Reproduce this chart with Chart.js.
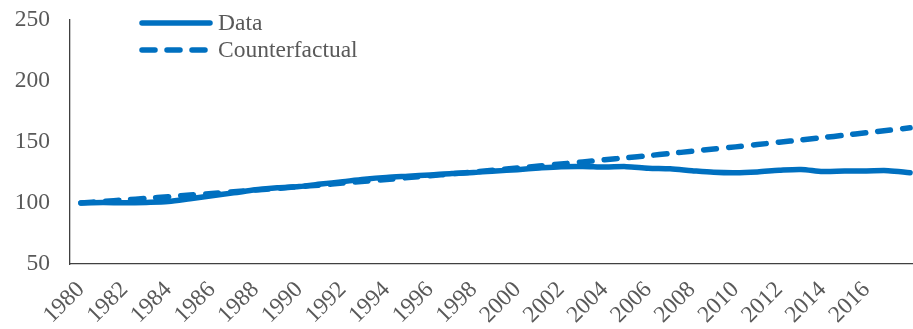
<!DOCTYPE html>
<html>
<head>
<meta charset="utf-8">
<script src="https://cdn.jsdelivr.net/npm/chart.js@4"></script>
<style>
  html, body { margin: 0; padding: 0; background: #fff; overflow: hidden; }
  #wrap { position: relative; width: 921px; height: 329px; }
  #legend { position: absolute; left: 138px; top: 9px; font-family: "Liberation Serif", serif; font-size: 23.5px; color: #595959; }
  #legend div { height: 27px; display: flex; align-items: center; }
  #legend svg { margin-right: 2px; }
</style>
</head>
<body>
<div id="wrap">
  <canvas id="chart" width="921" height="329"></canvas>
  <div id="legend">
    <div><svg width="78" height="10"><line x1="4" y1="5" x2="72" y2="5" stroke="#0070C0" stroke-width="5.5" stroke-linecap="round"/></svg>Data</div>
    <div><svg width="78" height="10"><line x1="4" y1="5" x2="72" y2="5" stroke="#0070C0" stroke-width="5.5" stroke-linecap="round" stroke-dasharray="13 12"/></svg>Counterfactual</div>
  </div>
</div>
<script>
const years = ["1980","1981","1982","1983","1984","1985","1986","1987","1988","1989",
  "1990","1991","1992","1993","1994","1995","1996","1997","1998","1999",
  "2000","2001","2002","2003","2004","2005","2006","2007","2008","2009",
  "2010","2011","2012","2013","2014","2015","2016","2017","2018"];

const dataSeries = [100, 100.4, 100.2, 100.5, 101.2, 103.5, 106, 108.3, 110.8, 112.5,
  113.5, 115.5, 117.5, 119.5, 121, 122, 123, 124.2, 125, 126.2,
  127.3, 128.7, 129.8, 130, 129.5, 129.8, 128.5, 128, 126.5, 125.2,
  124.8, 125.5, 126.8, 127.5, 125.8, 126.2, 126.3, 126.5, 124.8];

const counterfactual = [100, 101.3, 102.5, 103.8, 105.1, 106.5, 107.8, 109.2, 110.6, 112.0,
  113.4, 114.8, 116.3, 117.8, 119.3, 120.8, 122.3, 123.9, 125.4, 127.0,
  128.7, 130.3, 132.0, 133.7, 135.4, 137.1, 138.8, 140.6, 142.4, 144.2,
  146.0, 147.9, 149.8, 151.7, 153.6, 155.6, 157.6, 159.6, 161.6];

const shownLabels = ["1980","1982","1984","1986","1988","1990","1992","1994","1996","1998",
  "2000","2002","2004","2006","2008","2010","2012","2014","2016"];

const yTicks = [50, 100, 150, 200, 250];

const blue = "#0070C0";
const textColor = "#595959";
const font = { family: "Liberation Serif", size: 23.5 };

new Chart(document.getElementById("chart"), {
  type: "line",
  data: {
    labels: years,
    datasets: [
      { label: "Data", data: dataSeries, borderColor: blue, borderWidth: 5.5,
        pointRadius: 0, tension: 0.3, borderCapStyle: "round", borderJoinStyle: "round" },
      { label: "Counterfactual", data: counterfactual, borderColor: blue, borderWidth: 5.5,
        borderDash: [13, 12], pointRadius: 0, tension: 0.3, borderCapStyle: "round" }
    ]
  },
  options: {
    responsive: false,
    animation: false,
    layout: { padding: { top: 20, right: 0, left: 0, bottom: 0 } },
    plugins: { legend: { display: false }, tooltip: { enabled: false } },
    scales: {
      x: {
        offset: true,
        grid: { display: false, drawTicks: false },
        border: { display: true, color: "#404040", width: 1.3 },
        afterFit: s => { s.height = 65; s.paddingLeft = 0; s.paddingRight = 0; },
        ticks: {
          autoSkip: false, maxRotation: 45, minRotation: 45, padding: 12,
          color: textColor, font: font,
          callback: function (v, i) { const l = years[i]; return shownLabels.includes(l) ? l : ""; }
        }
      },
      y: {
        min: yTicks[0], max: yTicks[yTicks.length - 1],
        grid: { display: false, drawTicks: false },
        border: { display: true, color: "#404040", width: 1.3 },
        afterFit: s => { s.width = 70; s.paddingTop = 0; s.paddingBottom = 0; },
        ticks: { stepSize: 50, padding: 20, color: textColor, font: font }
      }
    }
  }
});
</script>
</body>
</html>
